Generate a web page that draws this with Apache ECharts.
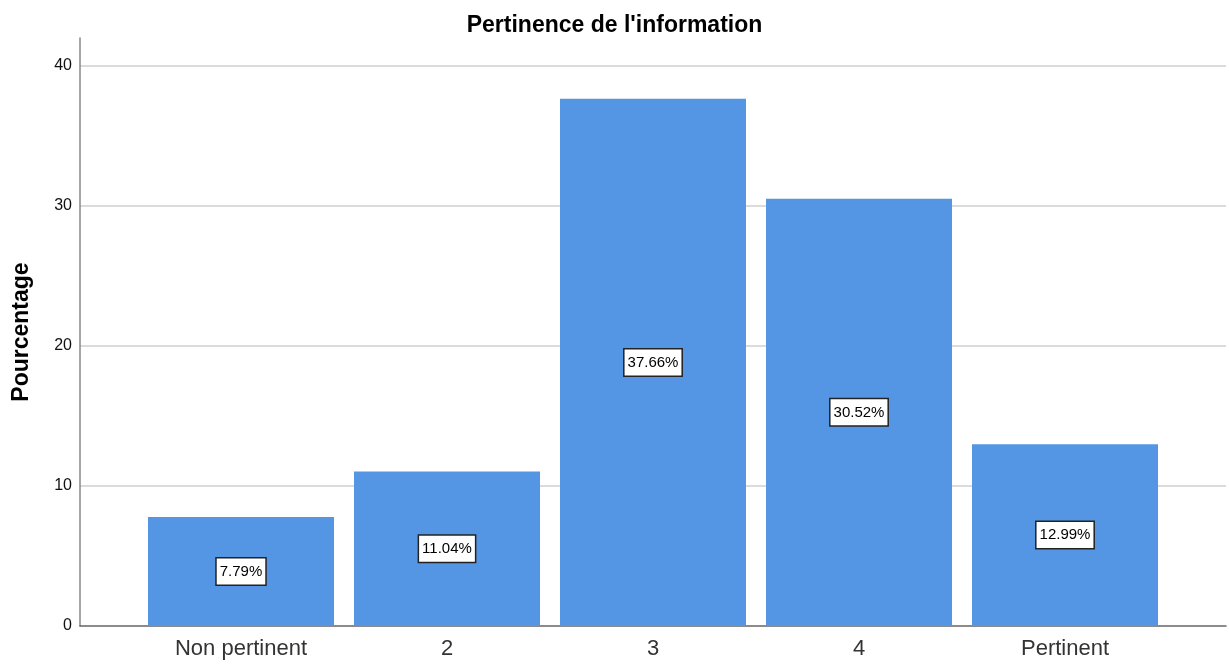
<!DOCTYPE html>
<html><head><meta charset="utf-8">
<script src="https://cdn.jsdelivr.net/npm/echarts@6/dist/echarts.min.js"></script>
<style>html,body{margin:0;padding:0;background:#fff}#c{width:1229px;height:665px}</style>
</head><body><div id="c"></div>
<script>
const categories = ["Non pertinent", "2", "3", "4", "Pertinent"];
const percentages = [7.79, 11.04, 37.66, 30.52, 12.99];
const yTicks = [0, 10, 20, 30, 40];
const titleText = "Pertinence de l'information";
const yAxisName = "Pourcentage";

const chart = echarts.init(document.getElementById('c'), null, {renderer: 'canvas'});
const font = '"Liberation Sans", Arial, sans-serif';
chart.setOption({
  animation: false,
  backgroundColor: '#fff',
  title: {
    text: titleText, left: 'center', top: 9,
    textStyle: {fontFamily: font, fontSize: 23, fontWeight: 'bold', color: '#000'}
  },
  grid: [
    {left: 80, right: 3, top: 38, bottom: 39, containLabel: false},
    {left: 138, right: 61, top: 38, bottom: 39, containLabel: false}
  ],
  xAxis: [
    {gridIndex: 0, type: 'category', data: [''], axisLine: {lineStyle: {color: '#666', width: 1.5}},
     axisTick: {show: false}, axisLabel: {show: false}},
    {gridIndex: 1, type: 'category', data: categories, axisLine: {show: false}, axisTick: {show: false},
     axisLabel: {fontFamily: font, fontSize: 22, color: '#333', margin: 12}}
  ],
  yAxis: [
    {gridIndex: 0, type: 'value', min: 0, max: 42, interval: 10,
     name: yAxisName, nameLocation: 'middle', nameGap: 47,
     nameTextStyle: {fontFamily: font, fontSize: 23, fontWeight: 'bold', color: '#000'},
     axisLine: {show: true, lineStyle: {color: '#888', width: 1.5}}, axisTick: {show: false},
     axisLabel: {fontFamily: font, fontSize: 16, color: '#111', margin: 8,
       formatter: v => yTicks.includes(v) ? String(v) : ''},
     splitLine: {show: true, showMaxLine: false, showMinLine: false, lineStyle: {color: '#cfcfcf', width: 1.5}}},
    {gridIndex: 1, type: 'value', min: 0, max: 42, interval: 10, show: false, splitLine: {show: false}}
  ],
  series: [{
    type: 'bar', xAxisIndex: 1, yAxisIndex: 1, data: percentages, barWidth: 186,
    itemStyle: {color: '#5596E4'},
    label: {show: true, position: 'inside', formatter: p => p.value.toFixed(2) + '%',
      fontFamily: font, fontSize: 15, lineHeight: 17, color: '#000', backgroundColor: '#fff',
      borderColor: '#222', borderWidth: 1.5, padding: [5, 3, 4, 3]}
  }]
});
</script></body></html>
